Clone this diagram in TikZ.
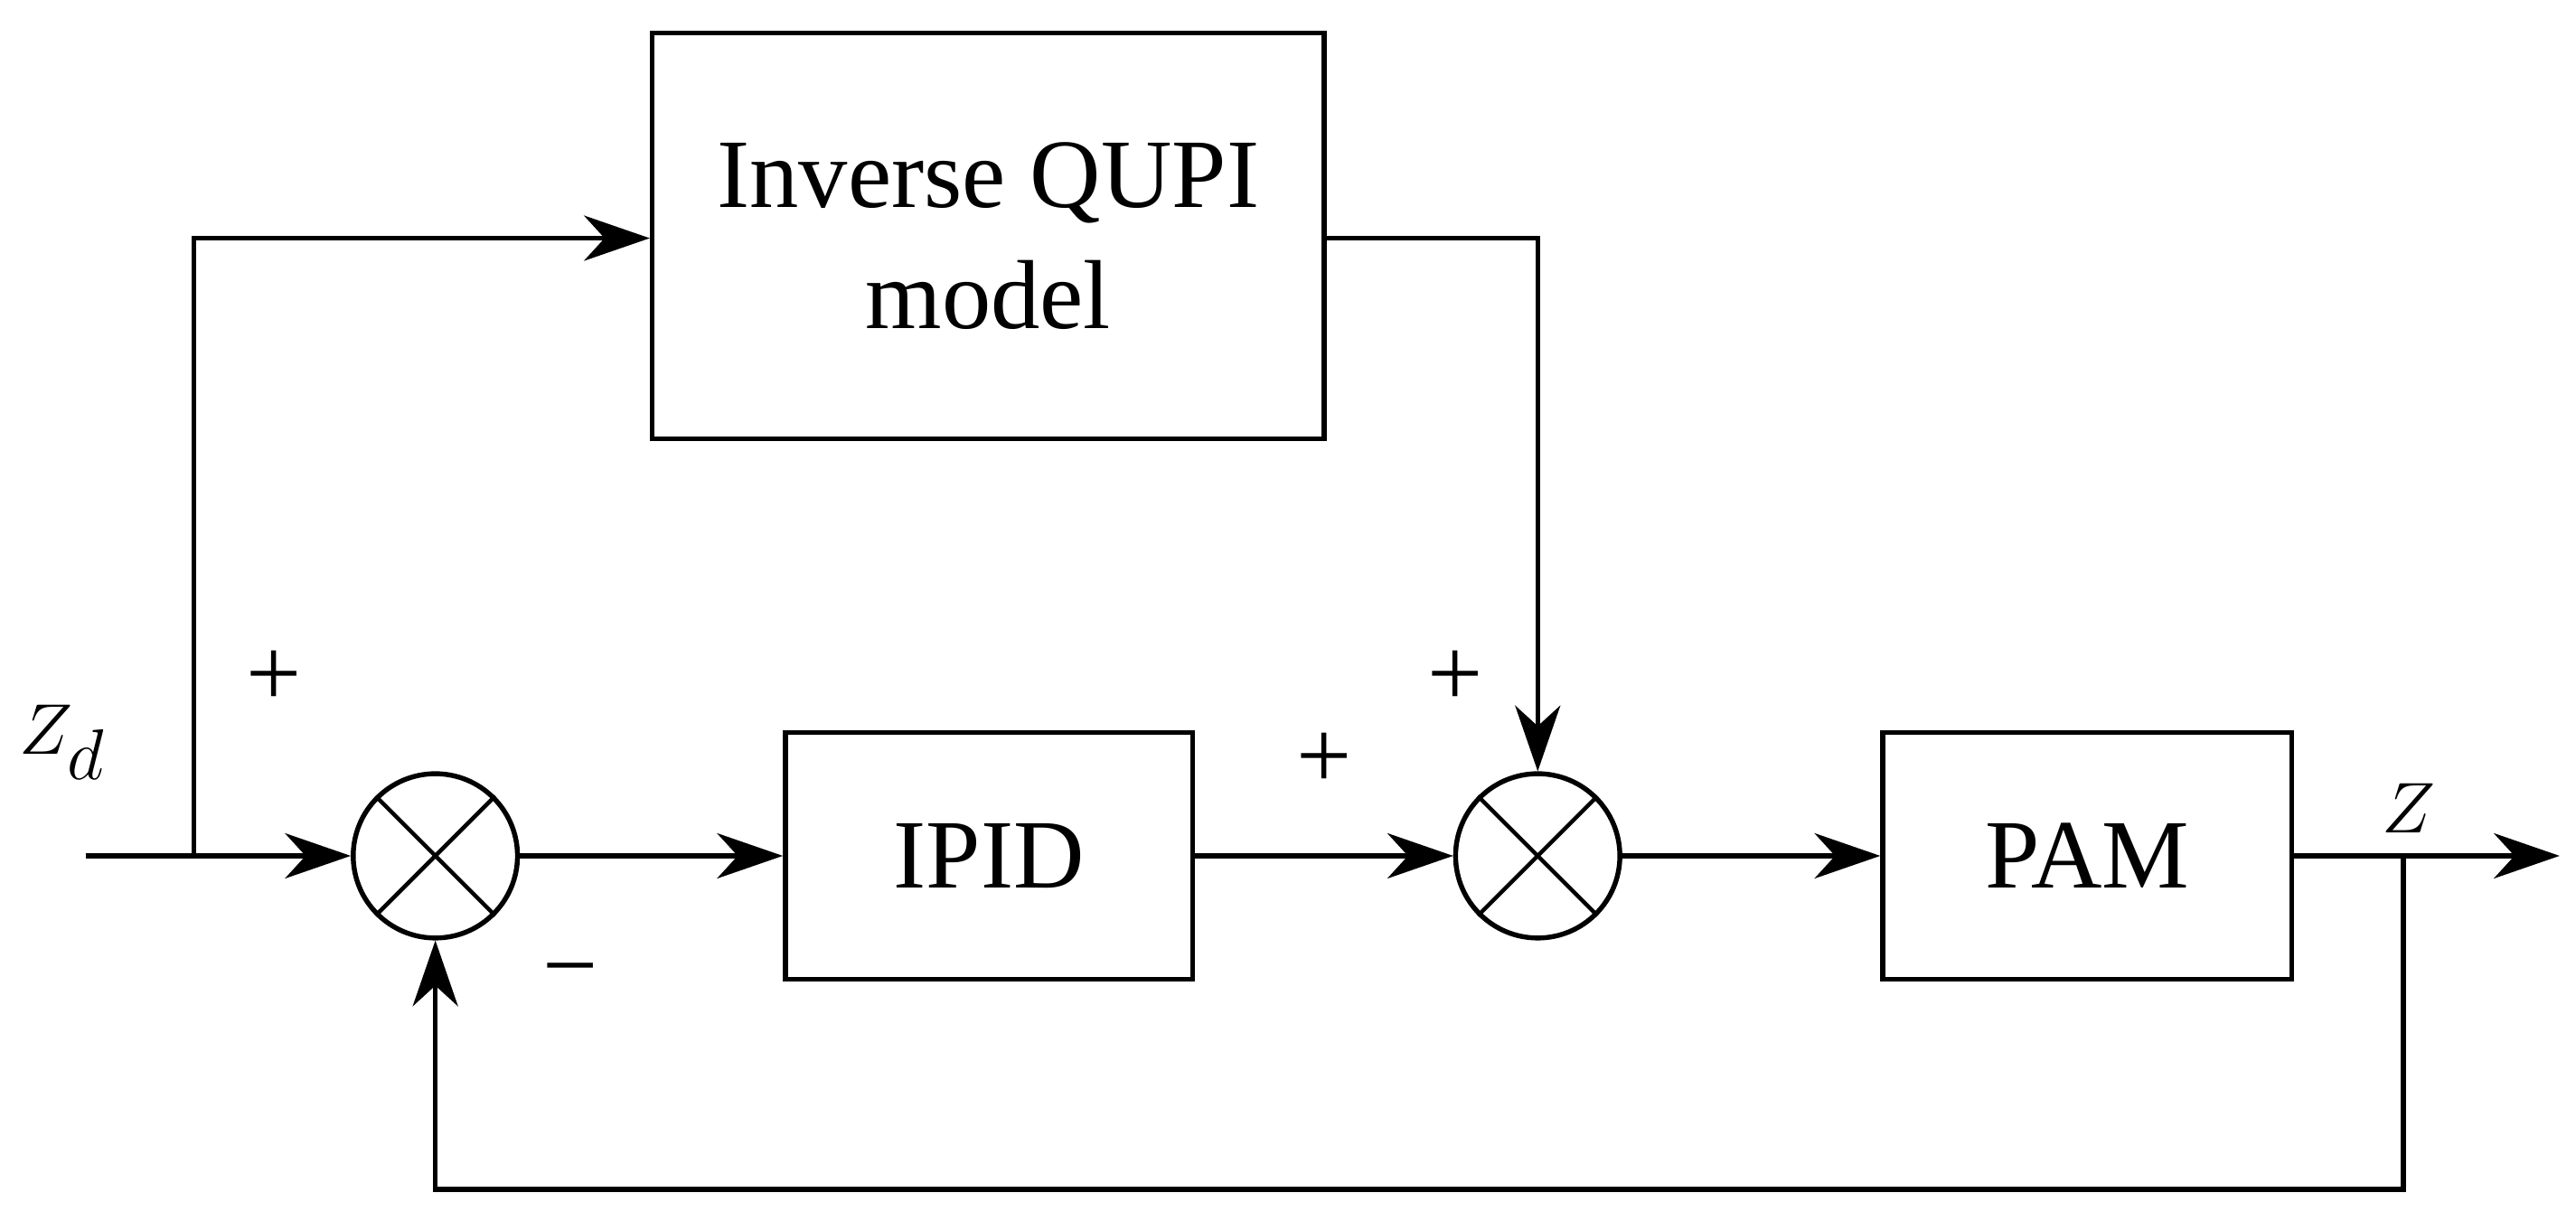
\documentclass[tikz,border=0pt]{standalone}
\usepackage{fontspec}
\setmainfont{Liberation Serif}
\usetikzlibrary{arrows.meta}
\begin{document}
\begin{tikzpicture}[x=0.02cm,y=-0.02cm,line width=1.7pt,
 blk/.style={draw,rectangle,inner sep=0pt,font=\fontsize{34}{42}\selectfont,align=center},
 sum/.style={draw,circle,minimum size=100*0.02cm,inner sep=0pt},
 arr/.style={-{Stealth[length=0.8cm,width=0.55cm,inset=0.25cm]}},
 lab/.style={font=\fontsize{34}{40}\selectfont}]
\useasboundingbox (0,0) rectangle (1568,743);
\node[blk,minimum width=409*0.02cm,minimum height=247*0.02cm] (q) at (601.5,143.5) {Inverse QUPI\\model};
\node[blk,minimum width=248*0.02cm,minimum height=150*0.02cm] (ipid) at (602,521) {IPID};
\node[blk,minimum width=249*0.02cm,minimum height=150*0.02cm] (pam) at (1270.5,521) {PAM};
\node[sum] (s1) at (265,521) {};
\node[sum] (s2) at (936,521) {};
\draw[line width=1.4pt] (s1.north west)--(s1.south east) (s1.north east)--(s1.south west);
\draw[line width=1.4pt] (s2.north west)--(s2.south east) (s2.north east)--(s2.south west);
\coordinate (in) at (52,521);
\coordinate (br) at (118,521);
\coordinate (out) at (1558,521);
\coordinate (ob) at (1463,521);
\draw[arr] (in)--(s1.west);
\draw[arr] (br)--(118,145)--(q.west|-0,145);
\draw[arr] (s1.east)--(ipid.west);
\draw[arr] (ipid.east)--(s2.west);
\draw[arr] (s2.east)--(pam.west);
\draw[arr] (q.east|-0,145)--(936,145)--(s2.north);
\draw[arr] (pam.east)--(out);
\draw[arr] (ob)--(1463,724)--(265,724)--(s1.south);
\node[lab] (p1) at (167,413) {+};
\node[lab] (zd) at (38,452) {$Z_d$};
\node[lab] (m1) at (347,597) {\textminus};
\node[lab] (p2) at (806,463) {+};
\node[lab] (p3) at (886,413) {+};
\node[lab] (z) at (1466,492) {$Z$};
\end{tikzpicture}
\end{document}
